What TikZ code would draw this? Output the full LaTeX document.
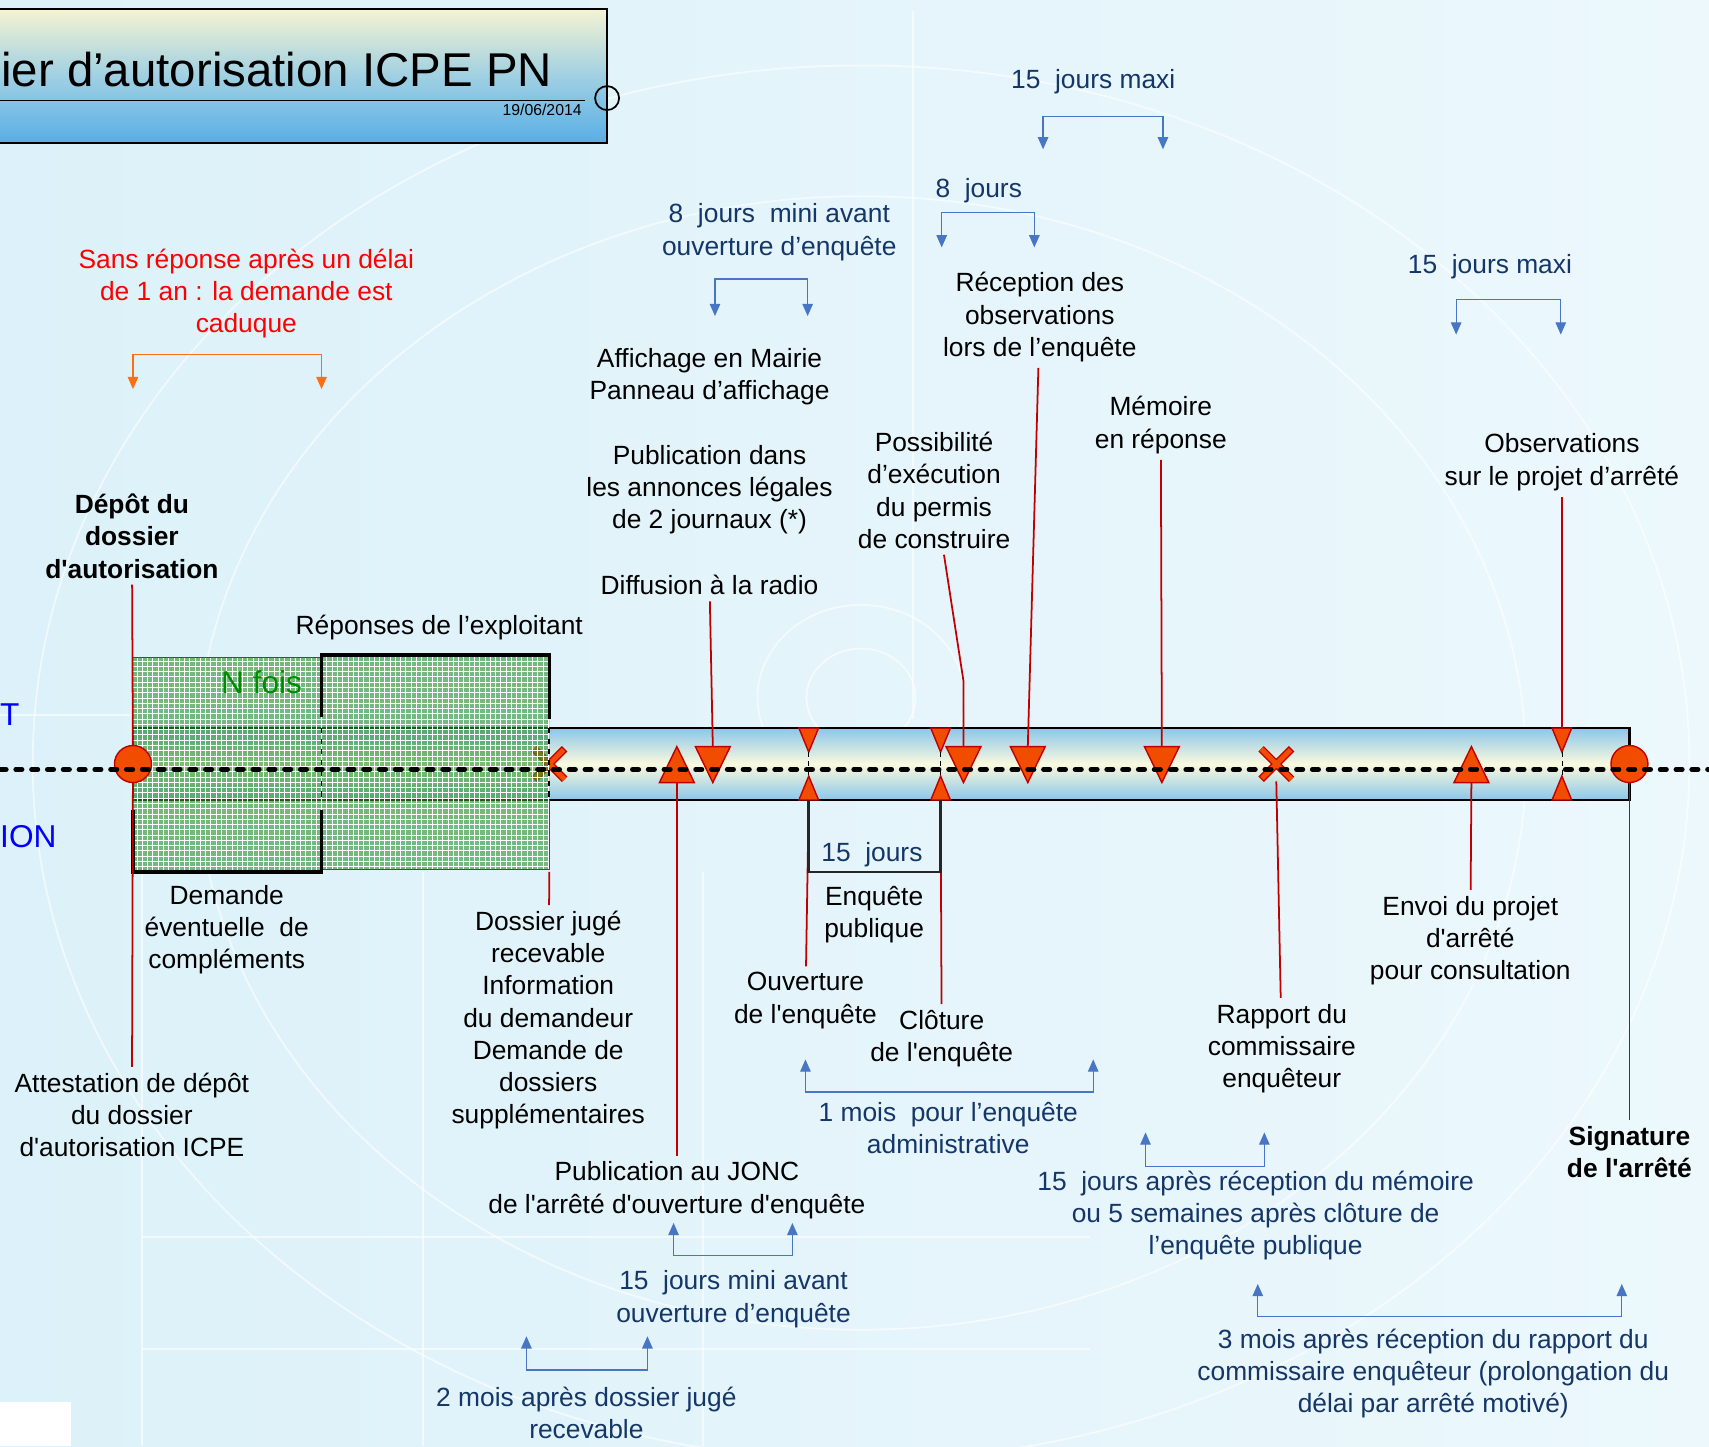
\documentclass[tikz,border=0pt]{standalone}
\usepackage{fontspec}
\setmainfont{Liberation Sans}
\usepackage{xcolor}
\usepackage{tikz}
\usetikzlibrary{arrows.meta}
\usetikzlibrary{calc}
\usetikzlibrary{patterns}

\definecolor{bgA}{RGB}{220,241,249}
\definecolor{bgB}{RGB}{236,248,252}
\definecolor{markfill}{RGB}{242,76,0}
\definecolor{markline}{RGB}{192,0,0}
\definecolor{navy}{RGB}{20,54,104}
\definecolor{brblue}{RGB}{72,118,196}
\definecolor{brorange}{RGB}{250,110,20}
\definecolor{boxgreen}{RGB}{50,150,50}
\definecolor{nfgreen}{RGB}{0,140,0}
\definecolor{barblue}{RGB}{140,198,234}
\definecolor{barcream}{RGB}{250,250,222}
\definecolor{titlecream}{RGB}{245,243,210}
\definecolor{titlemid}{RGB}{160,208,226}
\definecolor{titleblue}{RGB}{88,174,230}

\newcommand{\stq}{\textquotesingle}

\tikzset{
	pics/downtri/.style={code={
		\draw[marker] (-16,-16) -- (16,-16) -- (0,17) -- cycle;
		\coordinate (-top) at (0,-16);
	}},
	pics/uptri/.style={code={
		\draw[marker] (-16,17) -- (16,17) -- (0,-16) -- cycle;
		\coordinate (-bot) at (0,17);
	}},
	pics/pinch/.style={code={
		\draw[marker] (-9,-33) -- (9,-33) -- (0,-11) -- cycle;
		\draw[marker] (-9,33) -- (9,33) -- (0,11) -- cycle;
		\draw[black, dash pattern=on 3pt off 2pt] (0,-11) -- (0,11);
		\coordinate (-top) at (0,-33);
		\coordinate (-bot) at (0,33);
	}},
	pics/cross/.style={code={
		\foreach \w/\col/\s in {4.4pt/markline/0pt, 2.8pt/markfill/0.8pt}
			\draw[line width=\w, \col, shorten <=\s, shorten >=\s] (-14,-14) -- (14,14) (-14,14) -- (14,-14);
		\coordinate (-bot) at (0,16);
	}}
}

\begin{document}
\begin{tikzpicture}[x=0.0218cm, y=-0.0218cm,
	lbl/.style={align=center, font=\fontsize{15}{18.3}\selectfont},
	lblb/.style={lbl, font=\fontsize{15}{18.3}\selectfont\bfseries},
	delay/.style={lbl, text=navy},
	marker/.style={fill=markfill, draw=markline, line width=0.8pt, line join=miter},
	link/.style={draw=markline, line width=1pt},
	durspan/.style={draw=brblue, line width=0.7pt, {Triangle[width=6pt,length=7pt]}-{Triangle[width=6pt,length=7pt]}},
	thickedge/.style={line width=1.8pt, black}]

	% background
	\shade[left color=bgA, right color=bgB] (0,0) rectangle (1568,1327);
	\useasboundingbox (0,0) rectangle (1568,1327);
	\begin{scope}[white, line width=1pt, opacity=0.6]
		\draw (790,700) ellipse (760 and 640);
		\draw (790,700) ellipse (610 and 520);
		\draw (790,640) ellipse (95 and 85);
		\draw (790,640) ellipse (50 and 45);
		\foreach \x in {130, 388, 645} \draw (\x,800) -- (\x,1327);
		\foreach \y in {1135, 1238} \draw (130,\y) -- (1000,\y);
		\draw (838,10) -- (838,660);
		\draw (0,656) -- (122,656);
	\end{scope}
	\fill[white] (0,1286) rectangle (65,1327);

	% title
	\shade[top color=titlecream, bottom color=titleblue, middle color=titlemid] (-10,8) rectangle (557,131);
	\draw[line width=1.2pt] (-10,8) rectangle (557,131);
	\node[anchor=base east, inner sep=0, font=\fontsize{27}{30}\selectfont] (title) at (507,79) {ier d’autorisation ICPE PN};
	\node[anchor=base east, inner sep=0, font=\fontsize{9}{10}\selectfont] (date) at (534,106) {19/06/2014};
	\node[circle, draw, line width=1pt, minimum size=0.48cm, inner sep=0] (ring) at (557,90) {};
	\draw[line width=0.8pt] (-10,92) -- (537,92);

	% time bar
	\shade[top color=barblue, bottom color=barblue, middle color=barcream] (122,668) rectangle (1495,734);
	\draw[line width=1.2pt] (122,668) rectangle (1495,734);
	\pic (recmk) at (504,701) {cross};

	% completion boxes
	\fill[boxgreen, fill opacity=0.62] (122,603) rectangle (295,800) (295,601) rectangle (504,798);
	\fill[pattern=grid, pattern color=white, fill opacity=0.25] (122,603) rectangle (295,800) (295,601) rectangle (504,798);
	\draw[black!70] (122,603) -- (295,603) (295,798) -- (504,798) (504,734) -- (504,798);
	\draw[thickedge] (295,658) -- (295,601) -- (504,601) -- (504,660);
	\draw[thickedge] (122,743) -- (122,800) -- (295,800) -- (295,743);
	\draw[dashed, line width=1pt] (295,668) -- (295,734) (504,668) -- (504,734);
	\coordinate (boxcorner) at (504,800);

	% markers
	\node[circle, marker, minimum size=0.74cm, inner sep=0] (depotmk) at (122,701) {};
	\node[circle, marker, minimum size=0.74cm, inner sep=0] (signmk) at (1495,701) {};
	\foreach \n/\x in {radiomk/654, permismk/884, recepmk/943, memmk/1066}
		\pic (\n) at (\x,701) {downtri};
	\foreach \n/\x in {joncmk/621, envmk/1350}
		\pic (\n) at (\x,701) {uptri};
	\foreach \n/\x in {ouvmk/742, clomk/863, obsmk/1433}
		\pic (\n) at (\x,701) {pinch};
	\pic (rapmk) at (1171,701) {cross};

	% labels
	\node[lbl, text=red] (sansrep) at (226,269) {Sans réponse après un délai\\de 1 an : la demande est\\caduque};
	\node[delay] (huitmini) at (715,213) {8~ jours~ mini avant\\ouverture d’enquête};
	\node[lbl] (affich) at (651,346) {Affichage en Mairie\\Panneau d’affichage};
	\node[lbl] (annonces) at (651,449) {Publication dans\\les annonces légales\\de 2 journaux (*)};
	\node[lbl] (radio) at (651,537) {Diffusion à la radio};
	\node[delay] (huitj) at (898,175) {8~ jours};
	\node[delay] (quinzemax) at (1003,75) {15~ jours maxi};
	\node[lbl] (reception) at (954,291) {Réception des\\observations\\lors de l’enquête};
	\node[delay] (quinzemaxb) at (1367,245) {15~ jours maxi};
	\node[lbl] (memoire) at (1065,390) {Mémoire\\en réponse};
	\node[lbl] (permis) at (857,450) {Possibilité\\d’exécution\\du permis\\de construire};
	\node[lbl] (observ) at (1433,424) {Observations\\sur le projet d’arrêté};
	\node[lblb] (depot) at (121,492) {Dépôt du\\dossier\\d\stq autorisation};
	\node[lbl] (reponses) at (403,576) {Réponses de l’exploitant};
	\node[lbl, font=\fontsize{18}{20}\selectfont, text=nfgreen] (nfois) at (240,626) {N fois};
	\node[lbl, font=\fontsize{18}{20}\selectfont, text=blue] (letT) at (9,656) {T};
	\node[lbl, font=\fontsize{18}{20}\selectfont, text=blue] (letION) at (26,768) {ION};
	\node[delay] (quinzej) at (800,784) {15~ jours};
	\node[lbl] (enquete) at (802,839) {Enquête\\publique};
	\node[lbl] (demande) at (208,853) {Demande\\éventuelle~ de\\compléments};
	\node[lbl] (recevable) at (503,936) {Dossier jugé\\recevable\\Information\\du demandeur\\Demande de\\dossiers\\supplémentaires};
	\node[lbl] (ouverture) at (739,918) {Ouverture\\de l\stq enquête};
	\node[lbl] (cloture) at (864,953) {Clôture\\de l\stq enquête};
	\node[lbl] (rapport) at (1176,962) {Rapport du\\commissaire\\enquêteur};
	\node[lbl] (envoi) at (1349,863) {Envoi du projet\\d\stq arrêté\\pour consultation};
	\node[lbl] (attest) at (121,1023) {Attestation de dépôt\\du dossier\\d\stq autorisation ICPE};
	\node[lblb] (signature) at (1495,1057) {Signature\\de l\stq arrêté};
	\node[lbl] (jonc) at (621,1092) {Publication au JONC\\de l\stq arrêté d\stq ouverture d\stq enquête};
	\node[delay] (quinzemini) at (673,1192) {15~ jours mini avant\\ouverture d’enquête};
	\node[delay] (deuxmois) at (538,1296) {2 mois après dossier jugé\\recevable};
	\node[delay] (unmois) at (870,1035) {1 mois~ pour l’enquête\\administrative};
	\node[delay] (quinzeapres) at (1152,1115) {15~ jours après réception du mémoire\\ou 5 semaines après clôture de\\l’enquête publique};
	\node[delay] (troismois) at (1315,1260) {3 mois après réception du rapport du\\commissaire enquêteur (prolongation du\\délai par arrêté motivé)};

	% connectors
	\draw[link] (depot) -- (depotmk);
	\draw[link] (depotmk) -- (attest);
	\draw[link] (radio) -- (radiomk-top);
	\draw[link] (joncmk-bot) -- (jonc);
	\draw[link] (ouvmk-bot) -- (ouverture);
	\draw[link] (clomk-bot) -- (cloture);
	\draw[link] (permis) -- ($(permismk-top)+(0,-60)$) -- (permismk-top);
	\draw[link] (reception) -- (recepmk-top);
	\draw[link] (memoire) -- (memmk-top);
	\draw[link] (rapmk-bot) -- (rapport);
	\draw[link] (envmk-bot) -- (envoi);
	\draw[link] (observ) -- (obsmk-top);
	\draw[link] (signmk) -- (signature);
	\draw[link] (boxcorner) -- (recevable);
	\draw[line width=1.5pt, black!85] (ouvmk-bot) -- ++(0,66) -| (clomk-bot);

	% durations
	\foreach \xa/\xb/\yb/\yt in {656/741/256/290, 864/949/195/227, 957/1067/107/137, 1336/1432/275/307, 618/727/1152/1122, 483/594/1257/1226, 739/1003/1002/972, 1051/1160/1070/1039, 1154/1488/1208/1178}
		\draw[durspan] (\xa,\yt) -- (\xa,\yb) -- (\xb,\yb) -- (\xb,\yt);
	\draw[durspan, draw=brorange] (122,357) -- (122,325) -- (295,325) -- (295,357);

	% time line
	\draw[line width=2.8pt, line cap=round, dash pattern=on 3.5pt off 5.5pt] (0,706) -- (1568,706);
\end{tikzpicture}
\end{document}
